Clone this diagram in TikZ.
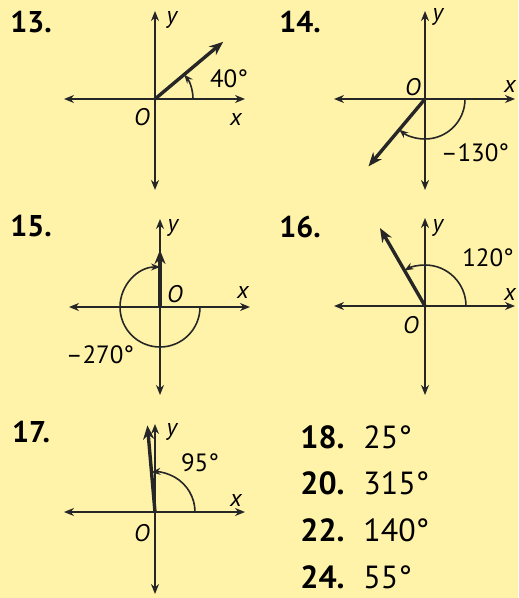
\documentclass[tikz,border=0pt]{standalone}
\usepackage{fontspec}
\setmainfont{PT Sans}
\usetikzlibrary{arrows.meta}
\definecolor{paper}{RGB}{255,243,170}
\definecolor{ink}{RGB}{38,38,38}

\begin{document}
\begin{tikzpicture}[
      x=0.5pt, y=0.5pt,
      axis/.style={ink, line width=1pt,
                   {Stealth[length=5pt,width=4pt]}-{Stealth[length=5pt,width=4pt]}},
      ray/.style={ink, line width=1.7pt, -{Stealth[length=7pt,width=5.5pt]}},
      turn/.style={ink, line width=0.8pt, -{Stealth[length=4.5pt,width=3.5pt]}},
      lbl/.style={font=\fontsize{12}{12}\selectfont\itshape, inner sep=0pt},
      deg/.style={font=\fontsize{12.5}{13}\selectfont, inner sep=0pt},
      num/.style={font=\fontsize{15}{15}\selectfont\bfseries, inner sep=0pt},
      ansnum/.style={font=\fontsize{16}{16}\selectfont\bfseries, inner sep=0pt, anchor=west},
      ans/.style={font=\fontsize{16}{16}\selectfont, inner sep=0pt, anchor=west}
    ]
    \fill[paper] (0,0) rectangle (518,-598);
    \useasboundingbox (0,0) rectangle (518,-598);

    % origins of the five sketches
    \coordinate (o13) at (155,-99);
    \coordinate (o14) at (425,-99);
    \coordinate (o15) at (160,-307);
    \coordinate (o16) at (425,-306);
    \coordinate (o17) at (155,-512);

    % axes
    \foreach \p/\dn in {13/91, 14/91, 15/88, 16/89, 17/82} {
      \coordinate (l\p) at ([shift={(-91,0)}]o\p);
      \coordinate (r\p) at ([shift={(90,0)}]o\p);
      \coordinate (t\p) at ([shift={(0,88)}]o\p);
      \coordinate (b\p) at ([shift={(0,-\dn)}]o\p);
      \draw[axis] (l\p) -- (r\p);
      \draw[axis] (b\p) -- (t\p);
    }

    % terminal sides
    \coordinate (e13) at ([shift={(40:89)}]o13);
    \coordinate (e14) at ([shift={(-130:88)}]o14);
    \coordinate (e15) at ([shift={(90:57)}]o15);
    \coordinate (e16) at ([shift={(120:90)}]o16);
    \coordinate (e17) at ([shift={(95:87)}]o17);
    \foreach \p in {13,14,15,16,17} {
      \draw[ray] (o\p) -- (e\p);
    }

    % rotation arcs
    \draw[turn] ([shift={(38,0)}]o13) arc[start angle=0, end angle=40, radius=38];
    \draw[turn] ([shift={(40,0)}]o14) arc[start angle=0, end angle=-130, radius=40];
    \draw[turn] ([shift={(40,0)}]o15) arc[start angle=0, end angle=-270, radius=40];
    \draw[turn] ([shift={(41,0)}]o16) arc[start angle=0, end angle=120, radius=41];
    \draw[turn] ([shift={(40,0)}]o17) arc[start angle=0, end angle=95, radius=40];

    % axis labels
    \node[lbl] (y13) at ([shift={(17,79)}]o13) {y};
    \node[lbl] (O13) at ([shift={(-13,-18)}]o13) {O};
    \node[lbl] (x13) at ([shift={(81,-21)}]o13) {x};
    \node[lbl] (y14) at ([shift={(13,82)}]o14) {y};
    \node[lbl] (O14) at ([shift={(-12,12)}]o14) {O};
    \node[lbl] (x14) at ([shift={(85,12)}]o14) {x};
    \node[lbl] (y15) at ([shift={(13,79)}]o15) {y};
    \node[lbl] (O15) at ([shift={(15,13)}]o15) {O};
    \node[lbl] (x15) at ([shift={(83,15)}]o15) {x};
    \node[lbl] (y16) at ([shift={(13,78)}]o16) {y};
    \node[lbl] (O16) at ([shift={(-14,-19)}]o16) {O};
    \node[lbl] (x16) at ([shift={(85,12)}]o16) {x};
    \node[lbl] (y17) at ([shift={(17,80)}]o17) {y};
    \node[lbl] (O17) at ([shift={(-13,-21)}]o17) {O};
    \node[lbl] (x17) at ([shift={(81,12)}]o17) {x};

    % angle measures
    \node[deg] (d13) at ([shift={(74,20)}]o13) {40°};
    \node[deg] (d14) at ([shift={(50,-54)}]o14) {–130°};
    \node[deg] (d15) at ([shift={(-60,-48)}]o15) {–270°};
    \node[deg] (d16) at ([shift={(63,48)}]o16) {120°};
    \node[deg] (d17) at ([shift={(45,49)}]o17) {95°};

    % exercise numbers
    \node[num] (n13) at (31,-22)  {13.};
    \node[num] (n14) at (300,-22) {14.};
    \node[num] (n15) at (31,-226) {15.};
    \node[num] (n16) at (300,-227) {16.};
    \node[num] (n17) at (31,-432) {17.};

    % short answers
    \foreach \k/\v/\yy in {18/25/437, 20/315/483, 22/140/530, 24/55/577} {
      \node[ansnum] (n\k) at (300,-\yy) {\k.};
      \node[ans] (v\k) at (363,-\yy) {\v°};
    }
  \end{tikzpicture}
\end{document}
